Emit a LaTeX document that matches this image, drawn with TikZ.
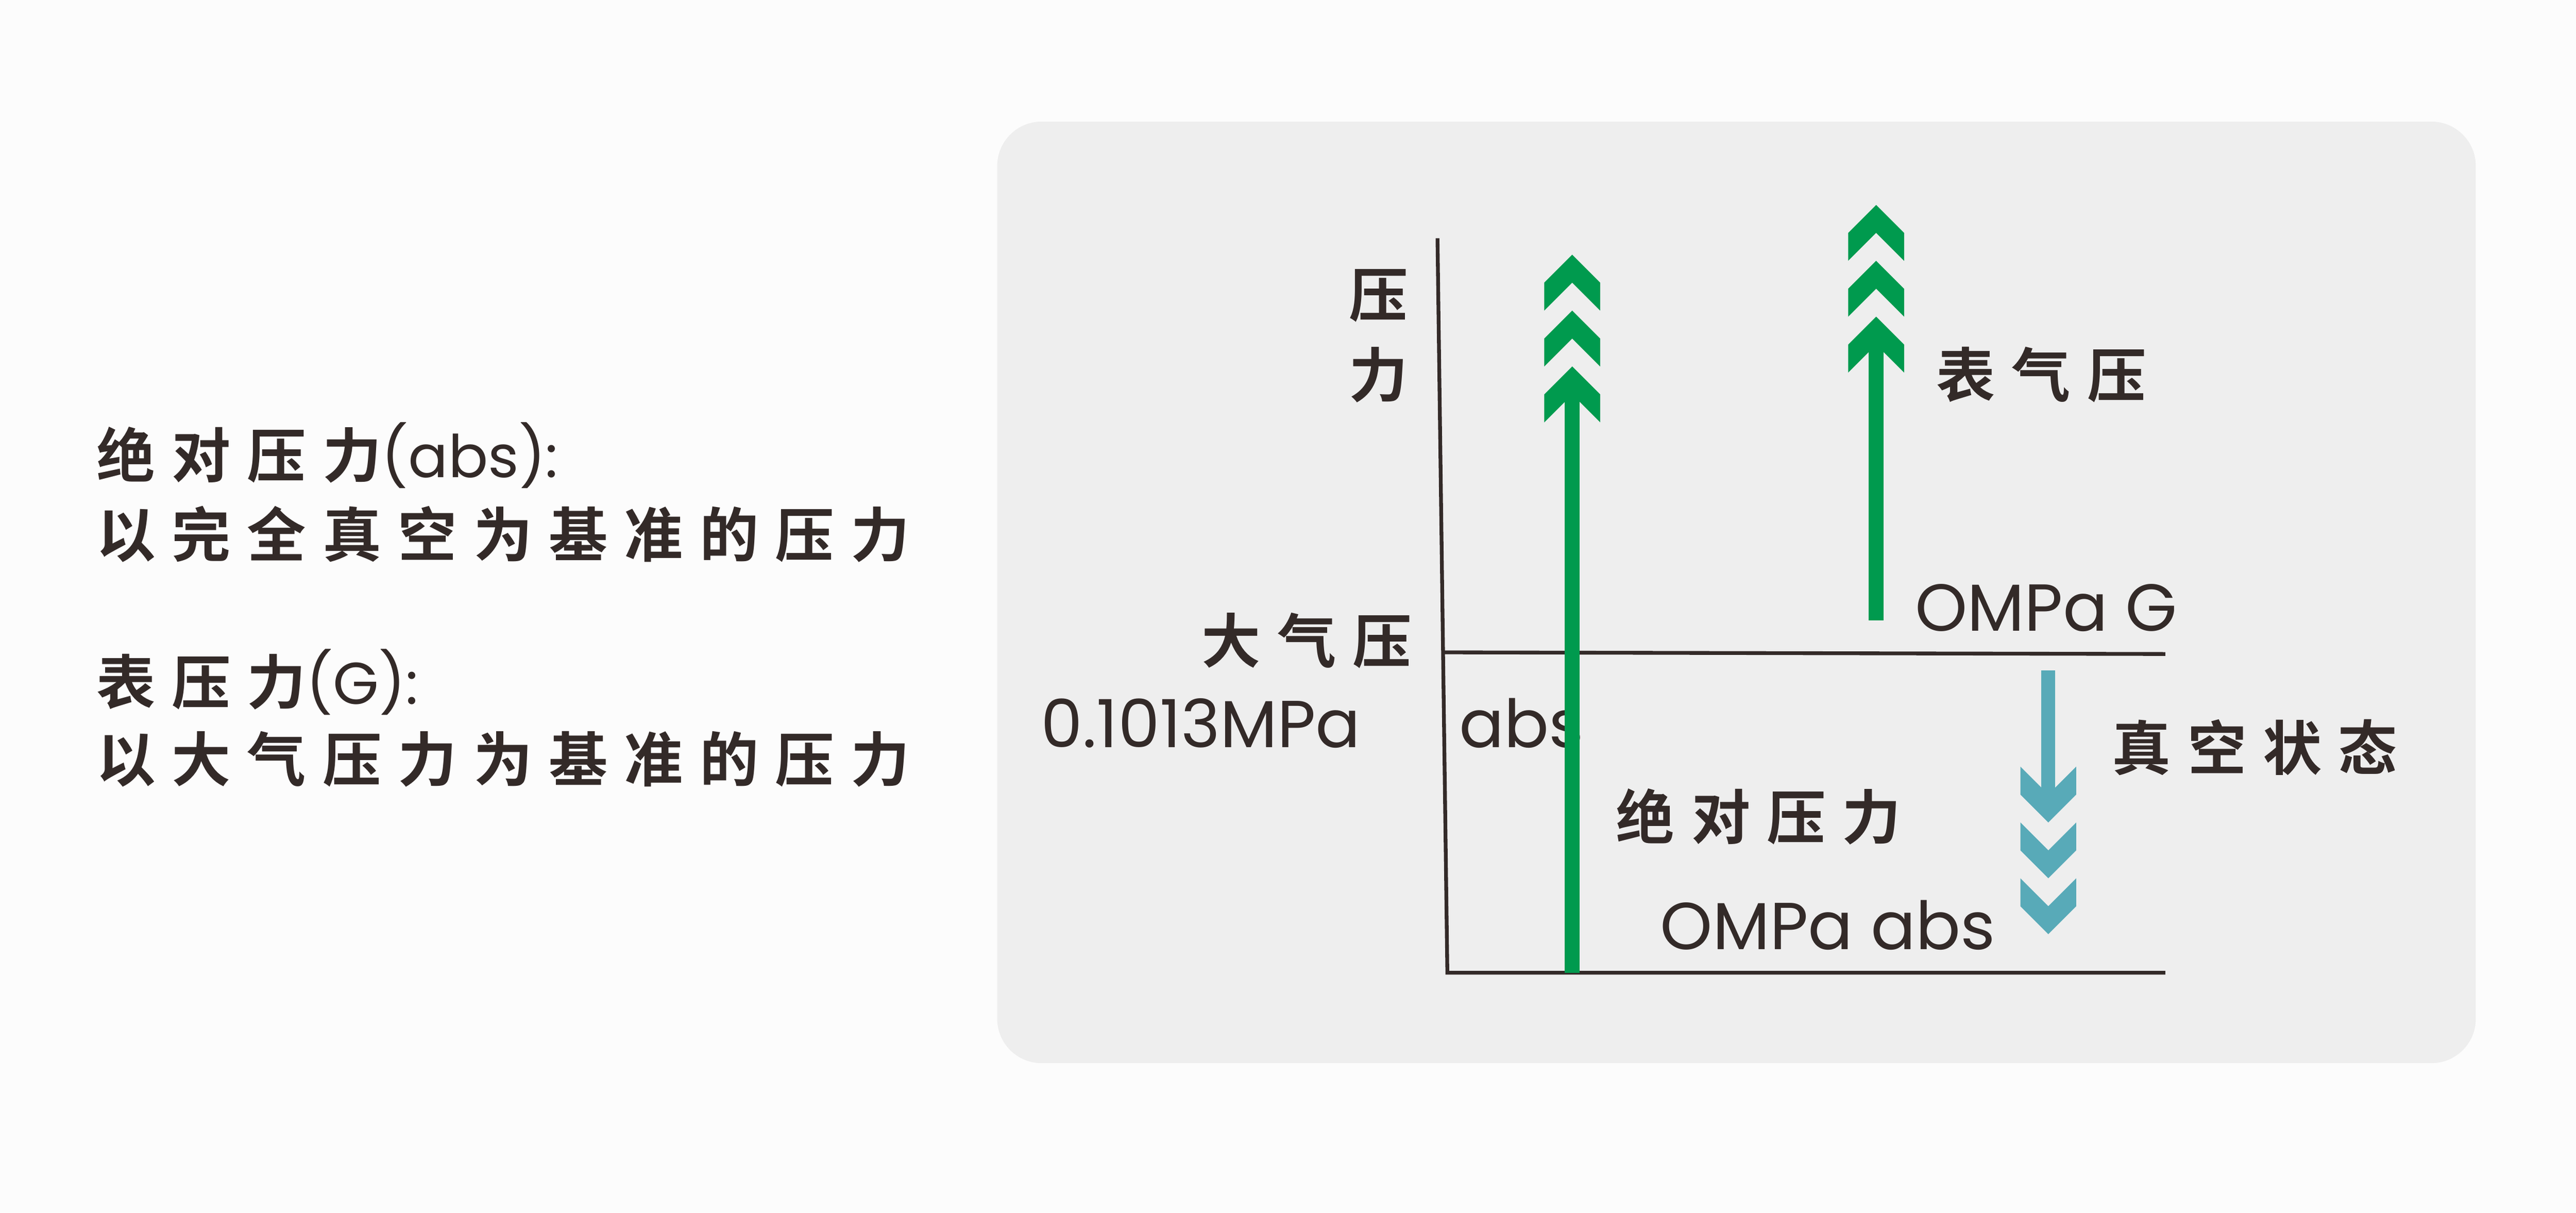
\documentclass[tikz,border=0pt]{standalone}
\usepackage{fontspec}
\setmainfont{Poppins}
\newfontfamily\cjk[LetterSpace=28]{Noto Sans CJK SC Bold}
\newfontfamily\lat{Poppins}
\definecolor{txt}{HTML}{332A28}
\definecolor{grn}{HTML}{009A4E}
\definecolor{cyn}{HTML}{58AAB8}
\definecolor{bgg}{HTML}{EEEEEE}
\tikzset{
  zh/.style={inner sep=0pt, text=txt, font=\cjk\fontsize{10.2pt}{12pt}\selectfont},
  en/.style={inner sep=0pt, text=txt, font=\lat\fontsize{11.5pt}{13pt}\selectfont},
  axis/.style={draw=txt, line width=0.023cm},
}
\newcommand{\chevup}[3]{\fill[#3] (#1,#2) -- ++(17,17) -- ++(0,17) -- ++(-17,-17) -- ++(-17,17) -- ++(0,-17) -- cycle;}
\newcommand{\chevdn}[3]{\fill[#3] (#1,#2) -- ++(17,-17) -- ++(0,-17) -- ++(-17,17) -- ++(-17,-17) -- ++(0,17) -- cycle;}
\begin{document}
\begin{tikzpicture}[x=0.01cm,y=-0.01cm]
\useasboundingbox (0,0) rectangle (1568,738);
\fill[white!99!black] (0,0) rectangle (1568,738);
\fill[bgg, rounded corners=0.27cm] (607,74) rectangle (1507,647);
% left text
\node[zh, anchor=west] (t1) at (58,277) {绝对压力\lat(abs):};
\node[zh, anchor=west] (t2) at (58,325) {以完全真空为基准的压力};
\node[zh, anchor=west] (t3) at (58,415) {表压力\lat(G):};
\node[zh, anchor=west] (t4) at (58,462) {以大气压力为基准的压力};
% axes
\coordinate (atop) at (875,145);
\coordinate (abot) at (881,592);
\coordinate (bR) at (1318,592);
\coordinate (mL) at (878,397);
\coordinate (mR) at (1318,398);
\draw[axis] (atop) -- (abot) -- (bR);
\draw[axis] (mL) -- (mR);
\node[zh] (y1) at (839,180) {压};
\node[zh] (y2) at (839,228) {力};
\node[zh, anchor=east] (atm) at (860,390) {大气压};
\node[en, anchor=west] (v1) at (633,440) {0.1013MPa\hspace{0.6cm}abs};
\node[zh, anchor=west] (g1) at (1178,228) {表气压};
\node[en, anchor=west] (g2) at (1165,370) {OMPa G};
\node[zh, anchor=west] (vac) at (1285,455) {真空状态};
\node[zh, anchor=west] (ab1) at (983,497) {绝对压力};
\node[en, anchor=west] (ab2) at (1010,563) {OMPa abs};
% left green arrow
\fill[grn] (952.5,239) rectangle (961.5,592);
\chevup{957}{155}{grn}\chevup{957}{189}{grn}\chevup{957}{223}{grn}
% right green arrow
\fill[grn] (1137.5,208) rectangle (1146.5,377.5);
\chevup{1142}{124.7}{grn}\chevup{1142}{158.7}{grn}\chevup{1142}{192.7}{grn}
% cyan arrow
\fill[cyn] (1242.5,408) rectangle (1251,484);
\chevdn{1246.8}{500.5}{cyn}\chevdn{1246.8}{534.5}{cyn}\chevdn{1246.8}{568.5}{cyn}
\end{tikzpicture}
\end{document}
